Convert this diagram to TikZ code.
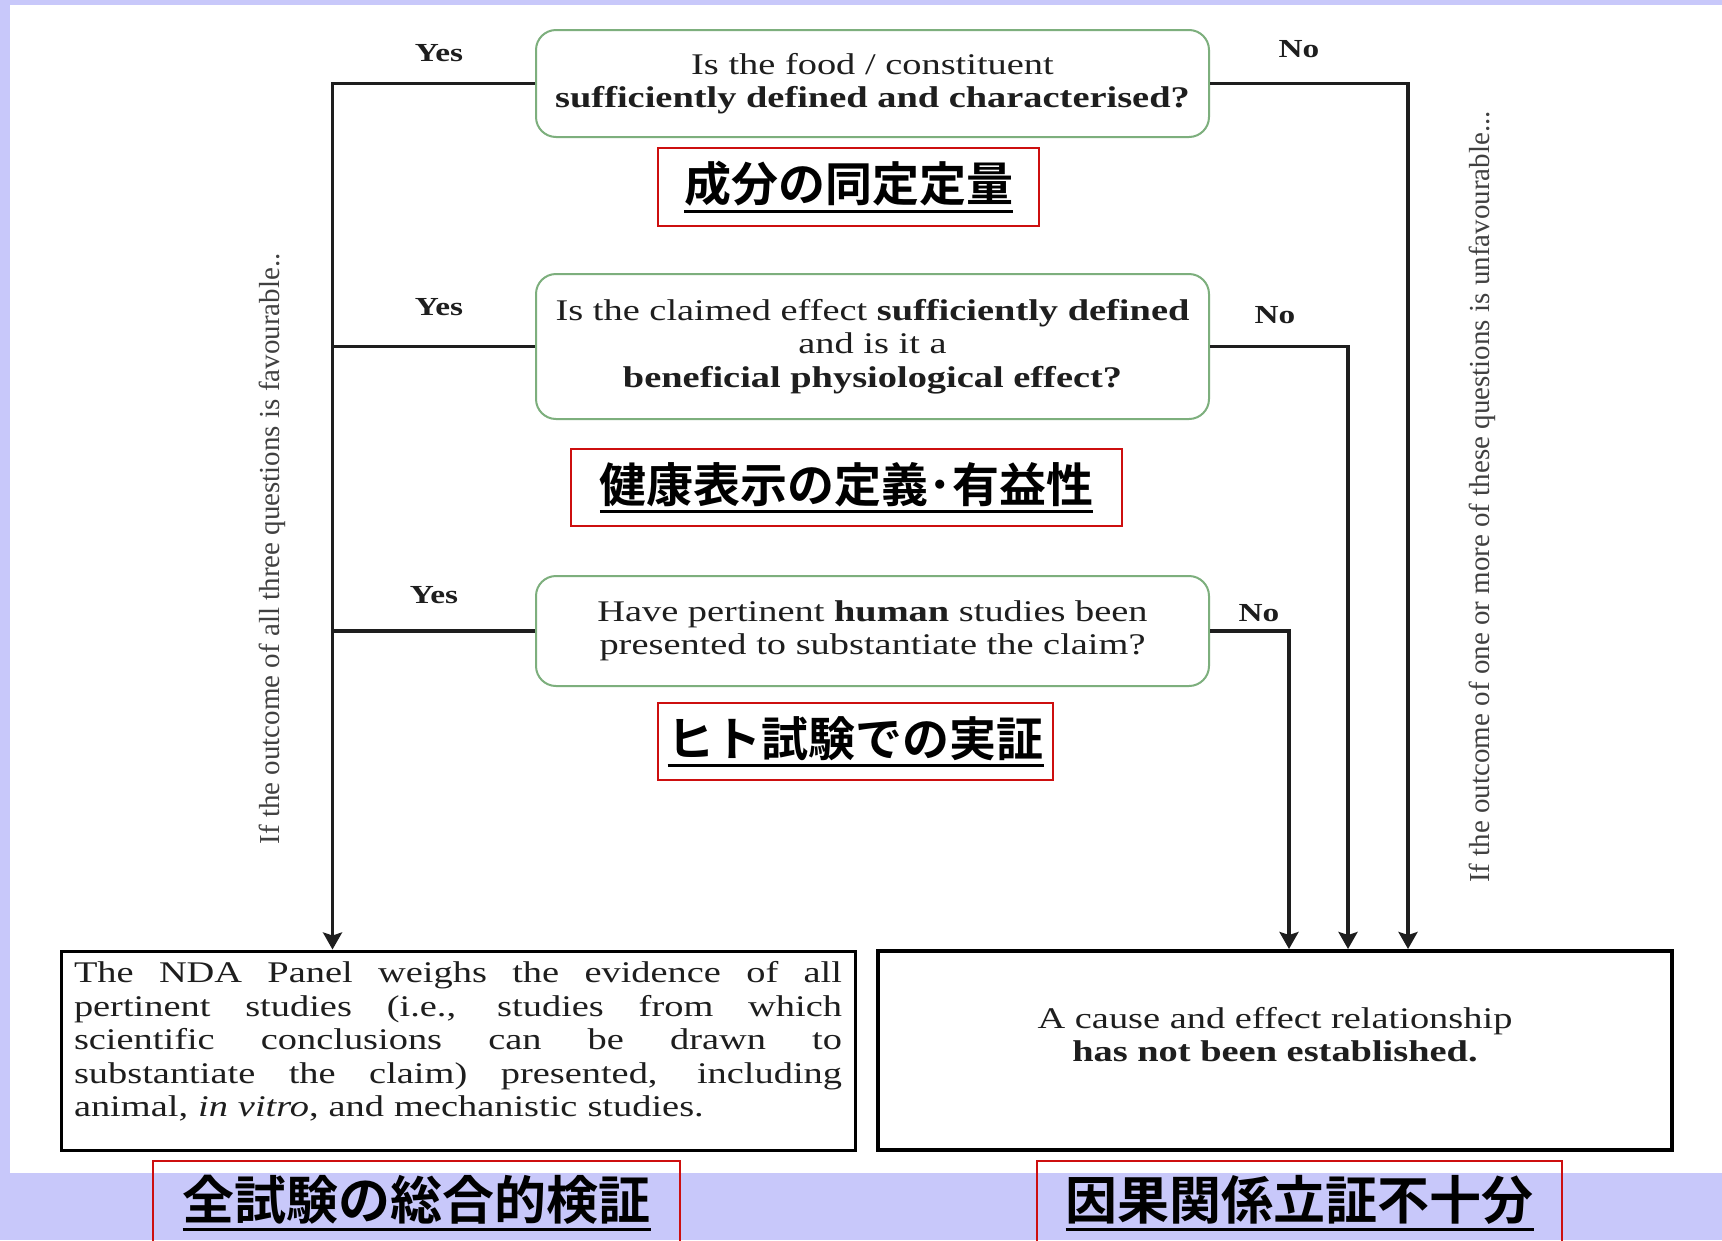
\documentclass[tikz,border=0pt]{standalone}
\usepackage{fontspec}
\setmainfont{Liberation Serif}
\newfontfamily\wide{Liberation Serif}[FakeStretch=1.28]
\newfontfamily\cjk{Noto Sans CJK JP Bold}
\usetikzlibrary{arrows.meta}
\definecolor{lav}{RGB}{200,200,250}
\definecolor{qgreen}{RGB}{125,175,125}
\definecolor{redb}{RGB}{205,15,15}
\definecolor{ink}{RGB}{30,30,30}
\newcommand\myul[1]{\vtop{\hbox{#1}\kern3pt\hrule height 3pt}}
\newcommand\jline[1]{{\spaceskip=0pt\relax\xspaceskip=0pt\relax\makebox[768pt][s]{#1}}}
\tikzset{
  qbox/.style={draw=qgreen, line width=2pt, rounded corners=20pt, fill=white,
    minimum width=673pt, inner sep=0pt, align=center, text=ink,
    font={\wide\fontsize{30}{33.5}\selectfont}},
  redlbl/.style={draw=redb, line width=2pt, inner sep=0pt, align=center,
    font={\cjk\fontsize{47}{50}\selectfont}},
  redlblbig/.style={redlbl, font={\cjk\fontsize{52}{55}\selectfont}},
  outbox/.style={draw=black, fill=white, inner sep=0pt, minimum width=794pt,
    minimum height=199pt, text=ink, font={\wide\fontsize{30}{33.5}\selectfont}},
  yn/.style={text=ink, font={\wide\bfseries\fontsize{26}{26}\selectfont}},
  side/.style={rotate=90, text=ink!85, font={\fontsize{29}{29}\selectfont}},
  conn/.style={line width=3.2pt, draw=ink},
  arr/.style={conn, -{Stealth[length=17pt,width=19pt,inset=3pt]}}
}
\begin{document}
\begin{tikzpicture}[x=1pt,y=-1pt]
\useasboundingbox (0,0) rectangle (1722,1240);
\fill[lav] (0,0) rectangle (1722,1240);
\fill[white] (10,5) rectangle (1722,1173);

% question boxes
\node[qbox, minimum height=107pt] (q1) at (872.5,83.5)
  {Is the food / constituent\\\textbf{sufficiently defined and characterised?}};
\node[qbox, minimum height=145pt] (q2) at (872.5,346.5)
  {Is the claimed effect \textbf{sufficiently defined}\\and is it a\\\textbf{beneficial physiological effect?}};
\node[qbox, minimum height=110pt] (q3) at (872.5,631)
  {Have pertinent \textbf{human} studies been\\presented to substantiate the claim?};

% red labels
\node[redlbl, minimum width=381pt, minimum height=78pt] (r1) at (848.5,187) {\myul{成分の同定定量}};
\node[redlbl, minimum width=551pt, minimum height=77pt] (r2) at (846.5,487.5) {\myul{健康表示の定義･有益性}};
\node[redlbl, minimum width=395pt, minimum height=77pt] (r3) at (855.5,741.5) {\myul{ヒト試験での実証}};
\node[redlblbig, minimum width=527pt, minimum height=84pt] (r4) at (416.5,1203) {\myul{全試験の総合的検証}};
\node[redlblbig, minimum width=525pt, minimum height=84pt] (r5) at (1299.5,1203) {\myul{因果関係立証不十分}};

% outcome boxes
\node[outbox, line width=3pt, text width=768pt, align=left] (panel) at (458,1050.5)
  {\jline{The NDA Panel weighs the evidence of all}\\
   \jline{pertinent studies (i.e., studies from which}\\
   \jline{scientific conclusions can be drawn to}\\
   \jline{substantiate the claim) presented, including}\\
   animal, \textit{in vitro}, and mechanistic studies.\rule[-23pt]{0pt}{0pt}};
\node[outbox, line width=4pt, align=center] (fail) at (1275,1050.5)
  {A cause and effect relationship\\\textbf{has not been established.}\rule[-32pt]{0pt}{0pt}};

% yes / no labels
\node[yn] (y1) at (439,53) {Yes};
\node[yn] (y2) at (439,307) {Yes};
\node[yn] (y3) at (434,595) {Yes};
\node[yn] (n1) at (1299,49) {No};
\node[yn] (n2) at (1275,315) {No};
\node[yn] (n3) at (1259,613) {No};

% side texts
\node[side] (sl) at (272,549) {If the outcome of all three questions is favourable..};
\node[side] (sr) at (1482,497) {If the outcome of one or more of these questions is unfavourable...};

% connector endpoints
\path (panel.north west) ++(273,0) coordinate (pin);
\path (fail.north west) ++(532,0) coordinate (p1);
\path (fail.north west) ++(472,0) coordinate (p2);
\path (fail.north west) ++(413,0) coordinate (p3);

\draw[arr] (q1.west) -| (pin);
\draw[conn] (q2.west) -- (q2.west -| pin);
\draw[conn] (q3.west) -- (q3.west -| pin);
\draw[arr] (q1.east) -| (p1);
\draw[arr] (q2.east) -| (p2);
\draw[arr] (q3.east) -| (p3);
\end{tikzpicture}
\end{document}
